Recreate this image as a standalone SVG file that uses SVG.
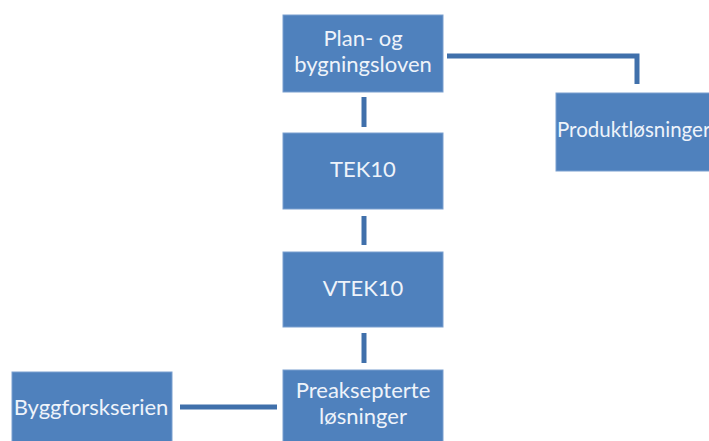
<svg xmlns="http://www.w3.org/2000/svg" width="709" height="441" viewBox="0 0 709 441">
<style>
.box{fill:#4F81BD;stroke:#7A9FCF;stroke-width:1}
.lbl{font-family:Lato,"Liberation Sans",sans-serif;font-size:22px;fill:#EEF3FA;text-anchor:middle}
.con{fill:none;stroke:#4070AB;stroke-width:5}
</style>
<rect width="709" height="441" fill="#FFFFFF"/>
<g id="connectors">
<line class="con" x1="364" y1="97" x2="364" y2="127"/>
<line class="con" x1="364" y1="216" x2="364" y2="245"/>
<line class="con" x1="364" y1="333" x2="364" y2="363"/>
<line class="con" x1="180" y1="407" x2="277" y2="407"/>
<polyline class="con" points="447,56 637,56 637,84"/>
</g>
<g id="plan">
<rect class="box" x="283" y="15" width="160" height="77"/>
<text class="lbl" x="363" y="46">Plan- og</text>
<text class="lbl" x="363" y="72">bygningsloven</text>
</g>
<g id="tek10">
<rect class="box" x="283" y="133" width="160" height="76"/>
<text class="lbl" x="363" y="177">TEK10</text>
</g>
<g id="vtek10">
<rect class="box" x="283" y="252" width="160" height="75"/>
<text class="lbl" x="363" y="296">VTEK10</text>
</g>
<g id="preaksepterte">
<rect class="box" x="283" y="370" width="160" height="80"/>
<text class="lbl" x="363" y="398">Preaksepterte</text>
<text class="lbl" x="363" y="424">løsninger</text>
</g>
<g id="byggforsk">
<rect class="box" x="12" y="372" width="160" height="80"/>
<text class="lbl" x="91" y="415">Byggforskserien</text>
</g>
<g id="produkt">
<rect class="box" x="556" y="93" width="170" height="78"/>
<text class="lbl" x="557" y="137" style="text-anchor:start;font-size:20.5px">Produktløsninger</text>
</g>
</svg>
